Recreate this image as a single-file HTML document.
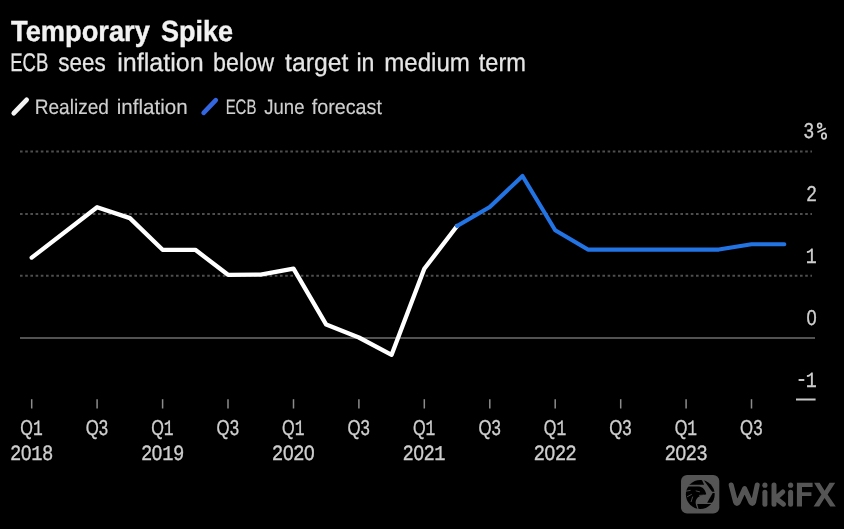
<!DOCTYPE html>
<html><head><meta charset="utf-8"><style>
html,body{margin:0;padding:0;background:#fff;width:846px;height:531px;overflow:hidden}
svg{display:block;will-change:transform}
text{font-family:"Liberation Sans",sans-serif;text-rendering:geometricPrecision}
</style></head><body>
<svg width="846" height="531" viewBox="0 0 846 531">
<rect x="0" y="0" width="844" height="529" fill="#000"/>
<text x="11.0" y="40.7" font-size="29" font-weight="bold" fill="#f2f2f2" stroke="#f2f2f2" stroke-width="0.4" textLength="138.85" lengthAdjust="spacingAndGlyphs">Temporary</text>
<text x="160.97" y="40.7" font-size="29" font-weight="bold" fill="#f2f2f2" stroke="#f2f2f2" stroke-width="0.4" textLength="72.08" lengthAdjust="spacingAndGlyphs">Spike</text>
<text x="10.14" y="70.8" font-size="25.5" fill="#e6e6e6" stroke="#e6e6e6" stroke-width="0.25" textLength="38.17" lengthAdjust="spacingAndGlyphs">ECB</text>
<text x="58.22" y="70.8" font-size="25.5" fill="#e6e6e6" stroke="#e6e6e6" stroke-width="0.25" textLength="47.45" lengthAdjust="spacingAndGlyphs">sees</text>
<text x="117.22" y="70.8" font-size="25.5" fill="#e6e6e6" stroke="#e6e6e6" stroke-width="0.25" textLength="86.37" lengthAdjust="spacingAndGlyphs">inflation</text>
<text x="213.09" y="70.8" font-size="25.5" fill="#e6e6e6" stroke="#e6e6e6" stroke-width="0.25" textLength="60.89" lengthAdjust="spacingAndGlyphs">below</text>
<text x="285.0" y="70.8" font-size="25.5" fill="#e6e6e6" stroke="#e6e6e6" stroke-width="0.25" textLength="63.31" lengthAdjust="spacingAndGlyphs">target</text>
<text x="356.39" y="70.8" font-size="25.5" fill="#e6e6e6" stroke="#e6e6e6" stroke-width="0.25" textLength="17.98" lengthAdjust="spacingAndGlyphs">in</text>
<text x="384.15" y="70.8" font-size="25.5" fill="#e6e6e6" stroke="#e6e6e6" stroke-width="0.25" textLength="85.76" lengthAdjust="spacingAndGlyphs">medium</text>
<text x="478.7" y="70.8" font-size="25.5" fill="#e6e6e6" stroke="#e6e6e6" stroke-width="0.25" textLength="47.33" lengthAdjust="spacingAndGlyphs">term</text>
<line x1="13.8" y1="113.2" x2="26.6" y2="99.8" stroke="#f4f4f4" stroke-width="4.8" stroke-linecap="round"/>
<text x="34.68" y="113.8" font-size="21" fill="#cfcfcf" stroke="#cfcfcf" stroke-width="0.15" textLength="74.27" lengthAdjust="spacingAndGlyphs">Realized</text>
<text x="116.72" y="113.8" font-size="21" fill="#cfcfcf" stroke="#cfcfcf" stroke-width="0.15" textLength="70.94" lengthAdjust="spacingAndGlyphs">inflation</text>
<line x1="203.6" y1="112.9" x2="215.8" y2="100.1" stroke="#3366e0" stroke-width="4.6" stroke-linecap="round"/>
<text x="225.68" y="113.8" font-size="21" fill="#cfcfcf" stroke="#cfcfcf" stroke-width="0.15" textLength="30.66" lengthAdjust="spacingAndGlyphs">ECB</text>
<text x="264.3" y="113.8" font-size="21" fill="#cfcfcf" stroke="#cfcfcf" stroke-width="0.15" textLength="40.18" lengthAdjust="spacingAndGlyphs">June</text>
<text x="311.8" y="113.8" font-size="21" fill="#cfcfcf" stroke="#cfcfcf" stroke-width="0.15" textLength="70.12" lengthAdjust="spacingAndGlyphs">forecast</text>
<g stroke="#4e4e4e" stroke-width="2" stroke-dasharray="2.6 2.6">
<line x1="20" y1="151.6" x2="812" y2="151.6"/>
<line x1="20" y1="213.9" x2="812" y2="213.9"/>
<line x1="20" y1="275.8" x2="812" y2="275.8"/>
</g>
<line x1="20" y1="338.1" x2="815" y2="338.1" stroke="#525252" stroke-width="2"/>
<line x1="796" y1="399.5" x2="815.6" y2="399.5" stroke="#c8c8c8" stroke-width="2"/>
<g font-size="21.5" fill="#cfcfcf" stroke="#cfcfcf" stroke-width="0.35" text-anchor="end">
<text transform="translate(813.8,138.4) scale(0.85,1)">3</text>
<text transform="translate(816.6,201) scale(0.85,1)">2</text>
<text transform="translate(816.6,263) scale(0.85,1)"><tspan font-family="Liberation Mono">1</tspan></text>
<text transform="translate(816.6,325) scale(0.85,1)">0</text>
<text transform="translate(816.6,387.2) scale(0.85,1)"><tspan font-family="Liberation Mono">1</tspan></text>
<line x1="798.6" y1="380" x2="804.3" y2="380" stroke-width="1.9"/>
</g>
<g fill="none" stroke="#cfcfcf" stroke-width="1.7"><ellipse cx="819.6" cy="125.6" rx="1.9" ry="2.3"/><ellipse cx="824" cy="136" rx="2.2" ry="2.9"/><line x1="817.4" y1="132.3" x2="825.8" y2="128.3"/></g>
<g stroke="#8c8c8c" stroke-width="1.5"><line x1="31.7" y1="399.2" x2="31.7" y2="408.5"/><line x1="97.1" y1="399.2" x2="97.1" y2="408.5"/><line x1="162.6" y1="399.2" x2="162.6" y2="408.5"/><line x1="228.0" y1="399.2" x2="228.0" y2="408.5"/><line x1="293.5" y1="399.2" x2="293.5" y2="408.5"/><line x1="358.9" y1="399.2" x2="358.9" y2="408.5"/><line x1="424.3" y1="399.2" x2="424.3" y2="408.5"/><line x1="489.8" y1="399.2" x2="489.8" y2="408.5"/><line x1="555.2" y1="399.2" x2="555.2" y2="408.5"/><line x1="620.7" y1="399.2" x2="620.7" y2="408.5"/><line x1="686.1" y1="399.2" x2="686.1" y2="408.5"/><line x1="751.5" y1="399.2" x2="751.5" y2="408.5"/></g>
<g font-size="19.5" fill="#cfcfcf" stroke="#cfcfcf" stroke-width="0.35"><text x="20.3" y="434.5" font-size="21.6" textLength="22.4" lengthAdjust="spacingAndGlyphs">Q<tspan font-family='Liberation Mono'>1</tspan></text><text x="85.7" y="434.5" font-size="21.6" textLength="22.4" lengthAdjust="spacingAndGlyphs">Q3</text><text x="151.2" y="434.5" font-size="21.6" textLength="22.4" lengthAdjust="spacingAndGlyphs">Q<tspan font-family='Liberation Mono'>1</tspan></text><text x="216.6" y="434.5" font-size="21.6" textLength="22.4" lengthAdjust="spacingAndGlyphs">Q3</text><text x="282.1" y="434.5" font-size="21.6" textLength="22.4" lengthAdjust="spacingAndGlyphs">Q<tspan font-family='Liberation Mono'>1</tspan></text><text x="347.5" y="434.5" font-size="21.6" textLength="22.4" lengthAdjust="spacingAndGlyphs">Q3</text><text x="412.9" y="434.5" font-size="21.6" textLength="22.4" lengthAdjust="spacingAndGlyphs">Q<tspan font-family='Liberation Mono'>1</tspan></text><text x="478.4" y="434.5" font-size="21.6" textLength="22.4" lengthAdjust="spacingAndGlyphs">Q3</text><text x="543.8" y="434.5" font-size="21.6" textLength="22.4" lengthAdjust="spacingAndGlyphs">Q<tspan font-family='Liberation Mono'>1</tspan></text><text x="609.3" y="434.5" font-size="21.6" textLength="22.4" lengthAdjust="spacingAndGlyphs">Q3</text><text x="674.7" y="434.5" font-size="21.6" textLength="22.4" lengthAdjust="spacingAndGlyphs">Q<tspan font-family='Liberation Mono'>1</tspan></text><text x="740.1" y="434.5" font-size="21.6" textLength="22.4" lengthAdjust="spacingAndGlyphs">Q3</text><text x="10.5" y="459.9" font-size="20.8" textLength="42.4" lengthAdjust="spacingAndGlyphs">20<tspan font-family='Liberation Mono'>1</tspan>8</text><text x="141.4" y="459.9" font-size="20.8" textLength="42.4" lengthAdjust="spacingAndGlyphs">20<tspan font-family='Liberation Mono'>1</tspan>9</text><text x="272.3" y="459.9" font-size="20.8" textLength="42.4" lengthAdjust="spacingAndGlyphs">2020</text><text x="403.1" y="459.9" font-size="20.8" textLength="42.4" lengthAdjust="spacingAndGlyphs">202<tspan font-family='Liberation Mono'>1</tspan></text><text x="534.0" y="459.9" font-size="20.8" textLength="42.4" lengthAdjust="spacingAndGlyphs">2022</text><text x="664.9" y="459.9" font-size="20.8" textLength="42.4" lengthAdjust="spacingAndGlyphs">2023</text></g>
<polyline points="31.7,257.6 97.1,207.2 129.9,218.1 162.6,249.8 195.3,249.8 228.0,274.8 260.7,274.7 293.5,268.7 326.2,324.6 358.9,337.5 391.6,354.8 424.3,268.8 457.1,226" fill="none" stroke="#ffffff" stroke-width="4.3" stroke-linejoin="round" stroke-linecap="round"/>
<polyline points="457.1,226 489.8,207 522.5,176 555.2,230.2 587.9,249.6 620.7,249.6 653.4,249.6 686.1,249.6 718.8,249.6 751.5,244.2 784.3,244.2" fill="none" stroke="#2274e4" stroke-width="4.1" stroke-linejoin="round" stroke-linecap="round"/>
<g transform="translate(684,478) scale(0.062147)">
<defs><clipPath id="lc"><circle cx="262" cy="265" r="232"/></clipPath></defs>
<rect x="-48" y="-50" width="616" height="620" rx="97" fill="#555"/>
<g clip-path="url(#lc)" fill="#000">
<polygon points="0,0 274,0 324,108 0,108"/>
<polygon points="294,0 531,0 531,222 452,222"/>
<polygon points="462,240 531,240 531,398 372,398"/>
<polygon points="212,420 531,420 531,531 242,531"/>
<path d="M0,138 L240,138 C300,142 340,185 358,262 C330,272 290,278 252,292 C205,312 178,360 190,420 C196,455 210,485 235,531 L0,531 Z"/>
</g>
<g stroke="#555" stroke-width="14" stroke-linecap="round" fill="none">
<path d="M195,208 L250,222"/>
<path d="M30,212 L100,200"/>
<path d="M55,300 L120,265"/>
<path d="M115,380 L138,305"/>
<path d="M250,280 L320,275"/>
</g>
</g>
<g stroke="#555" stroke-width="5" stroke-linecap="round" stroke-linejoin="round" fill="none">
<path d="M731.2,485 L735.6,502 Q736.8,505 738.5,502 L744.6,488.5 L750.7,502 Q752.4,505 753.6,502 L757.2,485"/>
<path d="M764.9,492.2 V504.2"/>
<path d="M774,485 V504.2 M782.8,492 L775.8,498.2 L783.5,504.2"/>
<path d="M790.6,492.2 V504.2"/>
</g>
<g fill="#555">
<circle cx="764.9" cy="485.2" r="2.6"/>
<circle cx="790.6" cy="485.2" r="2.6"/>
<polygon points="796.9,482.8 812.6,482.8 812.6,487 802,487 802,492.2 811.4,492.2 811.4,496.1 802,496.1 802,506.6 796.9,506.6"/>
<polygon points="814.1,482.8 819.6,482.8 824.6,490.8 829.6,482.8 835.2,482.8 827.6,494.6 835.8,506.6 830.2,506.6 824.6,498 819.2,506.6 813.6,506.6 821.4,494.6"/>
</g>
</svg>
</body></html>
